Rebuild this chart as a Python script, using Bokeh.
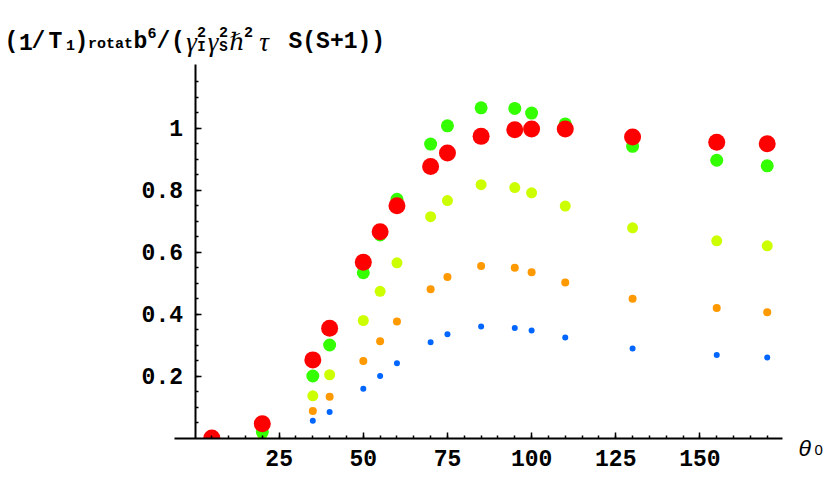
from bokeh.plotting import figure
from bokeh.models import Range1d, FixedTicker, Label
from bokeh.embed import file_html
from bokeh.resources import INLINE

# ---- data ----
theta = [5, 20, 35, 40, 50, 55, 60, 70, 75, 85, 95, 100, 110, 130, 155, 170]
rate_blue = [0.0, 0.004, 0.056, 0.084, 0.159, 0.200, 0.241, 0.309, 0.335, 0.360, 0.355, 0.347, 0.324, 0.289, 0.268, 0.260]
rate_orange = [0.0, 0.008, 0.087, 0.133, 0.248, 0.312, 0.376, 0.480, 0.519, 0.555, 0.549, 0.535, 0.502, 0.449, 0.419, 0.406]
rate_yellow = [0.0, 0.013, 0.136, 0.204, 0.379, 0.473, 0.565, 0.714, 0.766, 0.817, 0.808, 0.791, 0.748, 0.678, 0.636, 0.620]
rate_green = [0.0, 0.020, 0.200, 0.300, 0.533, 0.655, 0.770, 0.948, 1.007, 1.065, 1.063, 1.048, 1.013, 0.941, 0.896, 0.878]
rate_red = [0.0, 0.046, 0.252, 0.354, 0.567, 0.665, 0.749, 0.876, 0.919, 0.973, 0.994, 0.997, 0.997, 0.971, 0.954, 0.949]

x_major = [25, 50, 75, 100, 125, 150]
x_minor = list(range(5, 175, 5))
y_major = [0.2, 0.4, 0.6, 0.8, 1.0]
y_major_labels = ["0.2", "0.4", "0.6", "0.8", "1"]
y_minor = [round(0.05 * i, 2) for i in range(1, 24)]
x_axis_extent = (-6, 174.4)
y_axis_extent = (0, 1.205)

# ---- layout: the frame fills the whole canvas ----
W, H = 830, 498
X0, PXU = 194.5, 3.366   # pixel of theta=0, pixels per degree
Y0, PYU = 437.5, 310.0   # pixel of rate=0, pixels per unit
x_rng = Range1d(-X0 / PXU, (W - X0) / PXU)
y_rng = Range1d(-(H - Y0) / PYU, Y0 / PYU)

p = figure(width=W, height=H, output_backend="svg", toolbar_location=None,
           x_range=x_rng, y_range=y_rng,
           min_border_left=0, min_border_right=0, min_border_top=0, min_border_bottom=0)
p.outline_line_color = None
p.grid.visible = False
p.background_fill_color = "white"
p.border_fill_color = "white"

series = [
    (rate_blue, "#0066ff", 6),
    (rate_orange, "#ff9900", 8),
    (rate_yellow, "#ccff00", 11),
    (rate_green, "#33ff00", 13),
    (rate_red, "#ff0000", 17),
]
for vals, col, sz in series:
    p.scatter(theta, vals, marker="circle", size=sz, fill_color=col, line_color=None)

# plot region ends at rate = 0: hide whatever lies below the axis
p.quad(left=x_rng.start, right=x_rng.end, bottom=y_rng.start, top=0,
       fill_color="white", line_color=None)

for ax in (p.xaxis[0], p.yaxis[0]):
    ax.fixed_location = 0
    ax.axis_line_width = 2
    ax.axis_line_color = "black"
    ax.major_tick_line_width = 1.5
    ax.minor_tick_line_width = 1.5
    ax.major_tick_line_color = "black"
    ax.minor_tick_line_color = "black"
    ax.major_tick_in = 6
    ax.major_tick_out = 0
    ax.minor_tick_in = 3
    ax.minor_tick_out = 0
    ax.major_label_text_font = "Liberation Mono"
    ax.major_label_text_font_style = "bold"
    ax.major_label_text_font_size = "23px"
    ax.major_label_text_color = "black"

xa = p.xaxis[0]
xa.ticker = FixedTicker(ticks=x_major, minor_ticks=x_minor)
xa.bounds = x_axis_extent
xa.major_label_standoff = 12

ya = p.yaxis[0]
ya.ticker = FixedTicker(ticks=y_major, minor_ticks=y_minor)
ya.major_label_overrides = dict(zip(y_major, y_major_labels))
ya.bounds = y_axis_extent
ya.major_label_standoff = 12


# ---- text pieces (page pixel coordinates) ----
def put(text, px, py, size, font="Liberation Mono", style="bold", align="center"):
    p.add_layout(Label(x=px, y=H - py, x_units="screen", y_units="screen",
                       text=text, text_font=font, text_font_size=f"{size}px",
                       text_font_style=style, text_align=align,
                       text_baseline="alphabetic", text_color="black"))


BL, SUB, SUP = 41, 44, 32
GREEK = "Liberation Serif"
put("(", 11, BL, 23)
put("1", 25.5, BL, 23)
put("/", 38, BL, 23)
put("T", 55, BL, 23)
put("1", 70, SUB, 15)
put(")", 81, BL, 23)
put("rotat", 110, SUB, 15)
put("b", 140, BL, 23)
put("6", 151.5, SUP, 15)
put("/", 163, BL, 23)
put("(", 177.5, BL, 23)
put("\u03b3", 191, BL, 27, font=GREEK, style="italic")
put("2", 201, SUP - 1, 15)
put("I", 201, SUB + 2, 14)
put("\u03b3", 212.5, BL, 27, font=GREEK, style="italic")
put("2", 223, SUP - 1, 15)
put("S", 223, SUB + 2, 14)
put("\u210f", 236.5, BL, 24, font="DejaVu Serif", style="italic")
put("2", 248, SUP - 1, 15)
put("\u03c4", 263.5, BL, 27, font=GREEK, style="italic")
put("S(S+1))", 288, BL, 23, align="left")

put("\u03b8", 798, 447, 23, font="Liberation Sans", style="italic", align="left")
put("0", 814, 449, 15, font="Liberation Sans", style="normal", align="left")

open("out.html", "w").write(file_html(p, INLINE))
